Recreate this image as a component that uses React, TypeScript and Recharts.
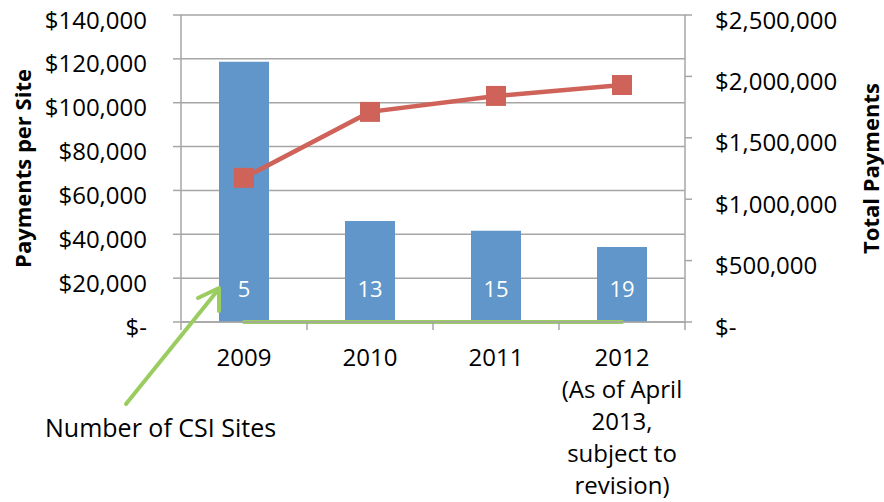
import { ComposedChart, Bar, Line, XAxis, YAxis, CartesianGrid, LabelList, Label } from "recharts";

const years = ["2009", "2010", "2011", "2012\n(As of April\n2013,\nsubject to\nrevision)"];
const paymentsPerSite = [118700, 46100, 41600, 34200];
const totalPayments = [1174000, 1711000, 1841000, 1930000];
const csiSites = [5, 13, 15, 19];
const leftTicks = [0, 20000, 40000, 60000, 80000, 100000, 120000, 140000];
const rightTicks = [0, 500000, 1000000, 1500000, 2000000, 2500000];

const data = years.map((year, i) => ({
  year,
  perSite: paymentsPerSite[i],
  total: totalPayments[i],
  sites: csiSites[i],
}));

const W = 884;
const H = 502;
const LEFT_W = 181;
const RIGHT_W = 199;
const X_H = 180;
const FONT = "'Open Sans', sans-serif";
const GRID = "#a6a6a6";
const BLUE = "#6096c9";
const RED = "#cf6359";
const GREEN = "#9bcc5f";

const halfBand = (W - LEFT_W - RIGHT_W) / years.length / 2;

const money = (v: number) => (v === 0 ? "$-" : "$" + v.toLocaleString("en-US"));

const XTick = (props: any) => {
  const { x, y, payload, index } = props;
  const lines = String(payload.value).split("\n");
  return (
    <g>
      <line x1={x - halfBand} y1={y} x2={x - halfBand} y2={y + 8} stroke={GRID} strokeWidth={1.5} />
      {index === years.length - 1 && (
        <line x1={x + halfBand} y1={y} x2={x + halfBand} y2={y + 8} stroke={GRID} strokeWidth={1.5} />
      )}
      <text x={x} y={y + 44} textAnchor="middle" fontSize={24} fontFamily={FONT} fill="#000">
        {lines.map((l, i) => (
          <tspan key={i} x={x} dy={i === 0 ? 0 : 32}>
            {l}
          </tspan>
        ))}
      </text>
    </g>
  );
};

// money tick, sits a few px below its gridline like the original
const YTick = (props: any) => {
  const { x, y, payload, textAnchor } = props;
  return (
    <text
      x={x}
      y={y + 4}
      textAnchor={textAnchor}
      dominantBaseline="central"
      fontSize={24}
      fontFamily={FONT}
      fill="#000"
    >
      {money(payload.value)}
    </text>
  );
};

const AxisTitle = ({ viewBox, text, dx }: any) => {
  const cx = viewBox.x + dx;
  const cy = viewBox.y + viewBox.height / 2;
  return (
    <text
      x={cx}
      y={cy}
      transform={`rotate(-90 ${cx} ${cy})`}
      textAnchor="middle"
      dominantBaseline="central"
      fontSize={22}
      fontWeight="bold"
      fontFamily={FONT}
      fill="#000"
    >
      {text}
    </text>
  );
};

const SiteLabel = (p: any) => (
  <text
    x={p.x + p.width / 2}
    y={p.y + p.height - 34}
    textAnchor="middle"
    dominantBaseline="central"
    fontSize={22}
    fontFamily={FONT}
    fill="#fff"
  >
    {p.value}
  </text>
);

const SquareDot = (p: any) => (
  <rect key={`dot-${p.index}`} x={p.cx - 10} y={p.cy - 10} width={20} height={20} fill={RED} />
);

const App = () => {
  return (
    <div style={{ position: "absolute", left: 0, top: 0, width: W, height: H }}>
      <ComposedChart width={W} height={H} data={data} margin={{ top: 15, right: 0, bottom: 0, left: 0 }}>
        <CartesianGrid yAxisId="left" vertical={false} stroke={GRID} strokeWidth={1.5} />
        <XAxis
          dataKey="year"
          height={X_H}
          tick={<XTick />}
          tickLine={false}
          tickSize={0}
          tickMargin={0}
          interval={0}
          axisLine={{ stroke: GRID, strokeWidth: 1.5 }}
        />
        <YAxis
          yAxisId="left"
          width={LEFT_W}
          domain={[0, 140000]}
          ticks={leftTicks}
          tickSize={8}
          tickMargin={26}
          tick={<YTick />}
          tickLine={{ stroke: GRID, strokeWidth: 1.5 }}
          axisLine={{ stroke: GRID, strokeWidth: 1.5 }}
        >
          <Label content={(p: any) => <AxisTitle {...p} text="Payments per Site" dx={22} />} />
        </YAxis>
        <YAxis
          yAxisId="right"
          orientation="right"
          width={RIGHT_W}
          domain={[0, 2500000]}
          ticks={rightTicks}
          tickSize={7}
          tickMargin={23}
          tick={<YTick />}
          tickLine={{ stroke: GRID, strokeWidth: 1.5 }}
          axisLine={{ stroke: GRID, strokeWidth: 1.5 }}
        >
          <Label content={(p: any) => <AxisTitle {...p} text="Total Payments" dx={185} />} />
        </YAxis>
        <Bar yAxisId="left" dataKey="perSite" fill={BLUE} barSize={50} isAnimationActive={false}>
          <LabelList dataKey="sites" content={<SiteLabel />} />
        </Bar>
        <Line
          yAxisId="right"
          dataKey="sites"
          stroke={GREEN}
          strokeWidth={4}
          strokeLinecap="round"
          dot={false}
          isAnimationActive={false}
        />
        <Line
          yAxisId="right"
          dataKey="total"
          stroke={RED}
          strokeWidth={4.5}
          dot={SquareDot}
          isAnimationActive={false}
        />
      </ComposedChart>
      <svg width={W} height={H} style={{ position: "absolute", left: 0, top: 0, pointerEvents: "none" }}>
        <line x1={126} y1={404} x2={218} y2={290} stroke={GREEN} strokeWidth={4} strokeLinecap="round" />
        <polyline
          points="198,298 219,288 219,311"
          fill="none"
          stroke={GREEN}
          strokeWidth={4}
          strokeLinecap="round"
          strokeLinejoin="round"
        />
        <text x={45} y={437} fontSize={25} fontFamily={FONT} fill="#000">
          Number of CSI Sites
        </text>
      </svg>
    </div>
  );
};

export default App;
